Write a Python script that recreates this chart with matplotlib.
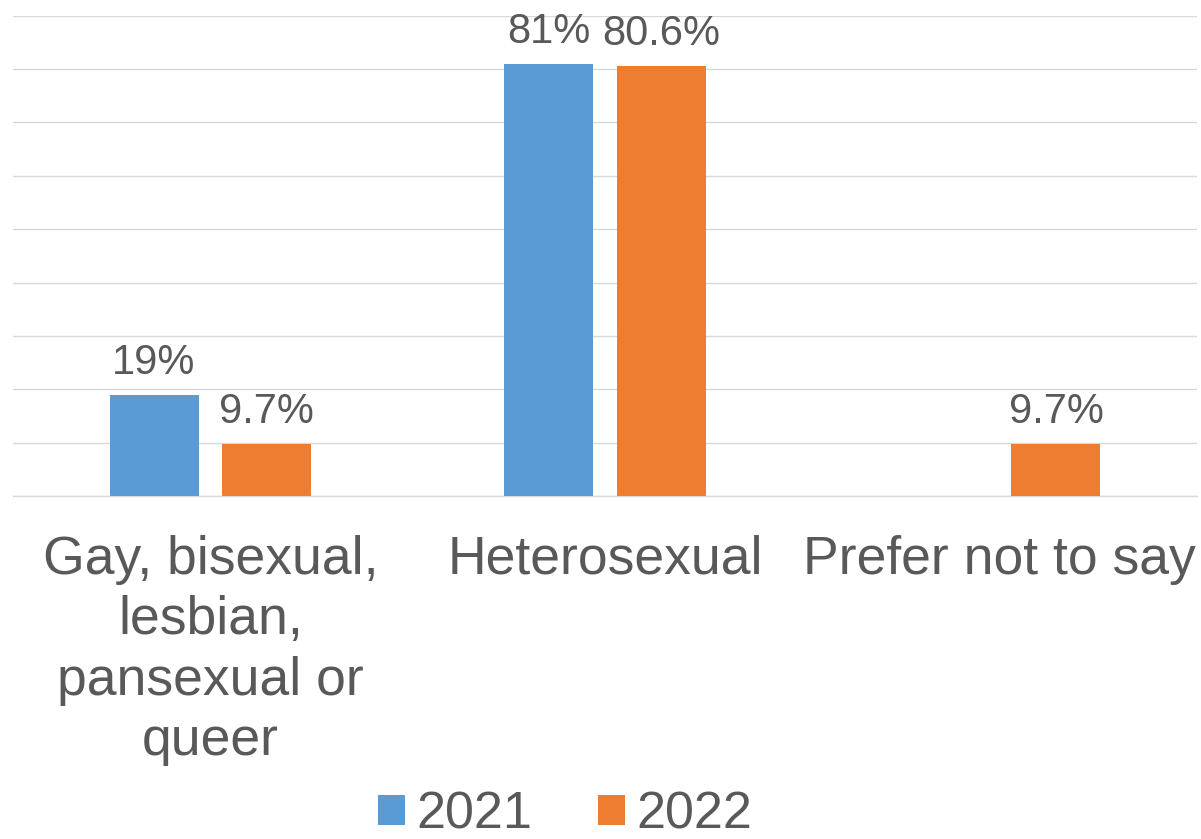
import numpy as np
import matplotlib
matplotlib.use("Agg")
import matplotlib.pyplot as plt
from matplotlib.patches import Patch

categories = ["Gay, bisexual,\nlesbian,\npansexual or\nqueer", "Heterosexual", "Prefer not to say"]
series_names = ["2021", "2022"]
values_2021 = [19, 81, np.nan]
values_2022 = [9.7, 80.6, 9.7]
labels_2021 = ["19%", "81%", ""]
labels_2022 = ["9.7%", "80.6%", "9.7%"]

colors = ["#5B9BD5", "#ED7D31"]
text_color = "#595959"

plt.rcParams['font.family'] = ['Liberation Sans', 'DejaVu Sans']

W, H = 1201, 839
fig = plt.figure(figsize=(W / 100, H / 100), dpi=100)
left, right = 13 / W, 1197 / W
bottom, top = 1 - 496 / H, 1 - 15.7 / H
ax = fig.add_axes([left, bottom, right - left, top - bottom])

x = np.arange(len(categories))
bw = 0.2255
off = 0.1426
for vals, labs, col, sgn in [(values_2021, labels_2021, colors[0], -1),
                             (values_2022, labels_2022, colors[1], 1)]:
    ax.bar(x + sgn * off, vals, width=bw, color=col, zorder=3)
    for xi, v, lab in zip(x, vals, labs):
        if lab and not np.isnan(v):
            ax.annotate(lab, (xi + sgn * off, v), xytext=(0, 15), textcoords="offset points",
                        ha="center", va="baseline", fontsize=30, color=text_color)

ax.set_xlim(-0.5, 2.5)
ax.set_ylim(0, 90)
ax.set_yticks(np.arange(0, 91, 10))
ax.yaxis.grid(True, color="#D9D9D9", linewidth=1.0, zorder=0)
ax.set_axisbelow(True)
ax.tick_params(axis="y", left=False, labelleft=False)
ax.set_xticks(x)
ax.set_xticklabels(categories, fontsize=38.5, color=text_color, linespacing=1.27)
ax.tick_params(axis="x", length=0, pad=28)
for s in ["left", "right", "top"]:
    ax.spines[s].set_visible(False)
ax.spines["bottom"].set_color("#D9D9D9")
ax.spines["bottom"].set_linewidth(1.0)

handles = [Patch(facecolor=c, edgecolor="none") for c in colors]
fig.legend(handles, series_names, loc="center", bbox_to_anchor=(565 / W, 1 - 815 / H),
           ncol=2, frameon=False, fontsize=37.5, labelcolor=text_color,
           handlelength=0.52, handleheight=0.52, handletextpad=0.22, columnspacing=1.25,
           borderpad=0, borderaxespad=0)

fig.savefig("out.png", dpi=100)
